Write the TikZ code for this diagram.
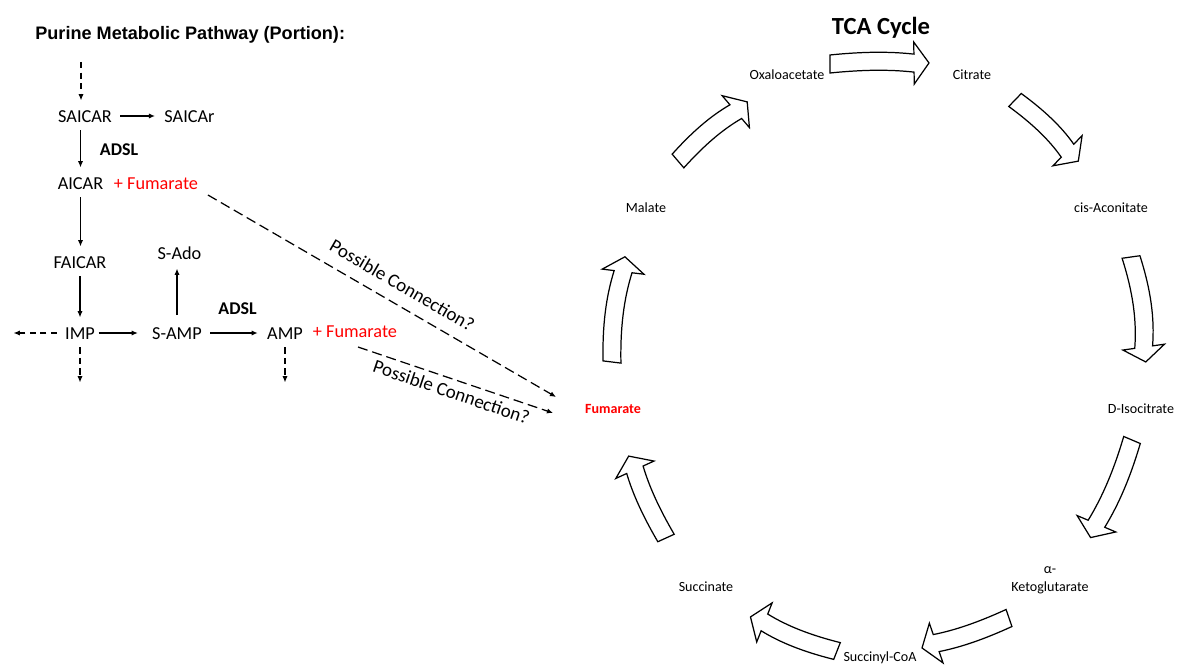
\documentclass[tikz,border=0pt]{standalone}
\usepackage{fontspec}
\setmainfont{Carlito}
\newfontfamily\arialfont{Liberation Sans}
\usetikzlibrary{arrows.meta,calc}
\tikzset{
  lbl/.style={inner sep=2pt, text height=7pt, text depth=0pt, font=\fontsize{10.4}{12}\selectfont},
  enz/.style={lbl, font=\fontsize{10.2}{12}\selectfont\bfseries},
  side/.style={lbl, text=red},
  tca/.style={inner sep=1pt, text height=5.2pt, text depth=0pt, font=\fontsize{8}{10.2}\selectfont},
  flow/.style={-{Latex[length=3.5pt,width=3pt]}, line width=0.65pt, shorten <=2.5pt, shorten >=3.2pt},
  flowdash/.style={flow, dash pattern=on 3.5pt off 2.5pt},
  maybe/.style={-{Latex[length=3.5pt,width=3pt]}, line width=0.7pt, dash pattern=on 5.7pt off 2.8pt},
  tca arrow/.style={draw=black, fill=white, line width=0.7pt, line join=miter}
}
\newcommand{\tcaarrow}[5]{%
\begin{scope}[shift={(#1,#2)}, rotate=#3]
\draw[tca arrow] (0,-9) .. controls ({#4*0.33},{-9-#5}) and ({#4*0.6},{-9-#5}) .. ({#4-15},-9)
  -- ({#4-15},-21) -- (#4,0) -- ({#4-15},21) -- ({#4-15},9)
  .. controls ({#4*0.6},{9-#5}) and ({#4*0.33},{9-#5}) .. (0,9) -- cycle;
\end{scope}}

\begin{document}
\begin{tikzpicture}[x=0.02cm,y=-0.02cm]
\useasboundingbox (0,0) rectangle (1180,669);
\node[anchor=base west, inner sep=0pt, font=\arialfont\bfseries\fontsize{10.3}{12}\selectfont] (title) at (35,39.5) {Purine Metabolic Pathway (Portion):};
\coordinate (top) at (81,62);
\node[lbl] (saicar) at (85,116) {SAICAR};
\node[lbl] (saicarr) at (189.5,116) {SAICAr};
\node[enz] (adsl1) at (119,149) {ADSL};
\node[lbl] (aicar) at (80.5,183) {AICAR};
\node[side] (pf1) at (156,183) {+ Fumarate};
\node[lbl] (faicar) at (80,262) {FAICAR};
\node[lbl] (imp) at (80,333) {IMP};
\node[lbl] (samp) at (177,333) {S-AMP};
\node[lbl] (sado) at (179.5,253) {S-Ado};
\node[enz] (adsl2) at (237.5,308) {ADSL};
\node[lbl] (amp) at (285,333) {AMP};
\node[side] (pf2) at (355,331) {+ Fumarate};
\coordinate (impl) at (8,333);
\coordinate (impd) at (80,388);
\coordinate (ampd) at (285,388);
\draw[flowdash, shorten <=0pt] (top) -- (saicar.north -| top);
\draw[flow] (saicar) -- (saicarr);
\draw[flow] (saicar.south -| aicar) -- (aicar);
\draw[flow] (aicar.south) -- (aicar.south |- faicar.north);
\draw[flow] (faicar) -- (imp);
\draw[flow, shorten <=0pt, shorten >=6pt] (imp) -- (samp);
\draw[flow] (samp) -- (amp);
\draw[flow, shorten <=4.5pt] (samp.north) -- (samp.north |- sado.south);
\draw[flowdash] (imp) -- (impl);
\draw[flowdash] (imp) -- (impd);
\draw[flowdash] (amp) -- (ampd);

\node[font=\bfseries\fontsize{14}{16}\selectfont, anchor=base, inner sep=0pt] (tcatitle) at (881,35) {TCA Cycle};
\node[tca] (oxa) at (787,75) {Oxaloacetate};
\node[tca] (cit) at (972,75) {Citrate};
\node[tca] (cis) at (1111,208) {cis-Aconitate};
\node[tca] (iso) at (1141,409) {D-Isocitrate};
\node[tca, align=center] (akg) at (1050,587) {α-\\Ketoglutarate};
\node[tca] (sco) at (880,657) {Succinyl-CoA};
\node[tca] (suc) at (706,587) {Succinate};
\node[tca, text=red, font=\bfseries\fontsize{8}{10.2}\selectfont] (fum) at (613,409) {Fumarate};
\node[tca] (mal) at (646,208) {Malate};
\foreach \tx/\ty/\ang/\len/\bul in {678/161/40.5/91/4, 830/64/0.6/99/3, 1015/100/-44/88/4,
  1131/257/-82/106/6, 1132/440/-113/106/4, 1009/618/-161/92/3,
  837/651/158.5/93/4, 666/538/114.5/90/3, 612/362/83/106/5}
  \tcaarrow{\tx}{\ty}{\ang}{\len}{\bul};

\draw[maybe] ([shift={(6,2)}]pf1.south east) -- ([shift={(-27,-12)}]fum.west)
  node[pos=0.53, sloped, above=6pt, inner sep=1pt, font=\fontsize{10.8}{12}\selectfont] {Possible Connection?};
\draw[maybe] ([shift={(3,6)}]pf2.south) -- ([shift={(-30,4)}]fum.west)
  node[pos=0.5, sloped, below=2pt, inner sep=1pt, font=\fontsize{10.8}{12}\selectfont] {Possible Connection?};
\end{tikzpicture}
\end{document}
